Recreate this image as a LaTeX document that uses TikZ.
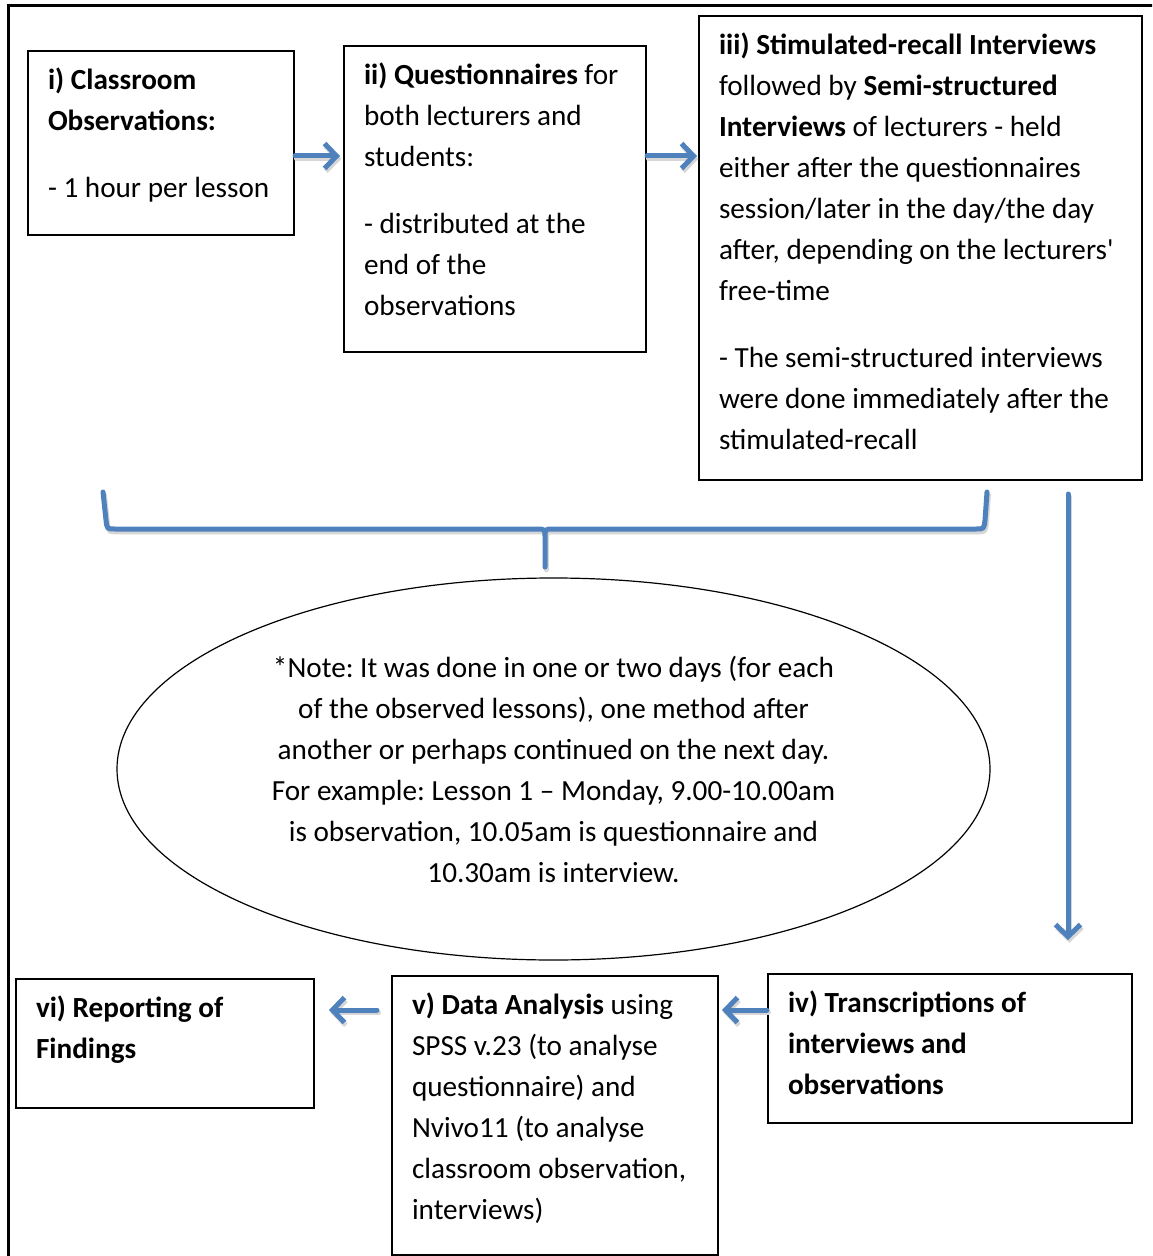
\documentclass[tikz,border=0pt]{standalone}
\usepackage{fontspec}
\setmainfont{Carlito}
\usetikzlibrary{shapes,arrows.meta,positioning,calc}
\definecolor{flowblue}{RGB}{79,129,189}
\frenchspacing
\newcommand{\stagetext}[3]{\parbox[c][#2][t]{#1}{\begin{tabular}[t]{@{}l@{}}#3\end{tabular}}}
\tikzset{
  stagebox/.style={draw, line width=1pt, anchor=north west, inner xsep=10pt, inner ysep=5pt},
  bluestroke/.style={draw=flowblue, line width=2.5pt, line cap=round},
  blueshadow/.style={draw=black!16, line width=2.5pt, line cap=round, transform canvas={shift={(0.7pt,-1.4pt)}}},
  barbtip/.style={-{Straight Barb[length=6pt,width=12.5pt]}}
}

\begin{document}
\begin{tikzpicture}[x=0.5pt, y=-0.5pt, font=\fontsize{14.6}{20.5}\selectfont]
    \clip (0,0) rectangle (1152,1256);
    \draw[line width=1.5pt] (8.5,1300) -- (8.5,5.5) -- (1200,5.5);

    % the six stages
    \node[stagebox] (obs) at (27,50) {\stagetext{113pt}{82pt}{\textbf{i) Classroom}\\ \textbf{Observations:}\\[13pt] - 1 hour per lesson}};
    \node[stagebox] (quest) at (343,45) {\stagetext{131pt}{143pt}{\textbf{ii) Questionnaires} for\\ both lecturers and\\ students:\\[13pt] - distributed at the\\ end of the\\ observations}};
    \node[stagebox] (recall) at (698,15) {\stagetext{201.5pt}{222pt}{\textbf{iii) Stimulated-recall Interviews}\\ followed by \textbf{Semi-structured}\\ \textbf{Interviews} of lecturers - held\\ either after the questionnaires\\ session/later in the day/the day\\ after, depending on the lecturers\textquotesingle\\ free-time\\[13pt] - The semi-structured interviews\\ were done immediately after the\\ stimulated-recall}};
    \node[stagebox] (transc) at (767,973) {\stagetext{162pt}{64.5pt}{\textbf{iv) Transcriptions of}\\ \textbf{interviews and}\\ \textbf{observations}}};
    \node[stagebox] (analysis) at (391,975) {\stagetext{143pt}{129.5pt}{\textbf{v) Data Analysis} using\\ SPSS v.23 (to analyse\\ questionnaire) and\\ Nvivo11 (to analyse\\ classroom observation,\\ interviews)}};
    \node[stagebox] (report) at (15,978) {\stagetext{129pt}{54.5pt}{\textbf{vi) Reporting of}\\ \textbf{Findings}}};

    \node[ellipse, draw, line width=0.6pt, minimum width=436.5pt, minimum height=191pt, inner sep=0pt, align=center] (note) at (553.5,769)
        {*Note: It was done in one or two days (for each\\ of the observed lessons), one method after\\ another or perhaps continued on the next day.\\ For example: Lesson 1 -- Monday, 9.00-10.00am\\ is observation, 10.05am is questionnaire and\\ 10.30am is interview.};

    % brace over the first three stages
    \foreach \s in {blueshadow, bluestroke}{
        \draw[\s, line join=round] (103,492) -- (106,520) .. controls (107,529) .. (115,529) -- (537,529) .. controls (545,529) .. (545,538) -- (545,567)
            (545,538) .. controls (545,529) .. (553,529) -- (976,529) .. controls (984,529) .. (985,520) -- (987,492);
    }

    % arrow ends
    \coordinate (obsout) at ($(obs.east)+(0,13)$);
    \coordinate (questin) at ($(quest.west)+(-3,-43)$);
    \coordinate (questout) at ($(quest.east)+(0,-43)$);
    \coordinate (recallin) at ($(recall.west)+(-1,-92)$);
    \coordinate (recallout) at ($(recall.south)+(147.5,13)$);
    \coordinate (transcin) at ($(transc.north)+(118,-33)$);
    \coordinate (transcout) at ($(transc.west)+(0,-38.5)$);
    \coordinate (analysisin) at ($(analysis.east)+(3,-105.5)$);
    \coordinate (analysisout) at ($(analysis.west)+(-14,-105.5)$);
    \coordinate (reportin) at ($(report.east)+(14,-33.5)$);
    \foreach \a/\b in {obsout/questin, questout/recallin, recallout/transcin, transcout/analysisin, analysisout/reportin}{
        \draw[blueshadow, barbtip] (\a) -- (\b);
        \draw[bluestroke, barbtip] (\a) -- (\b);
    }
\end{tikzpicture}
\end{document}
